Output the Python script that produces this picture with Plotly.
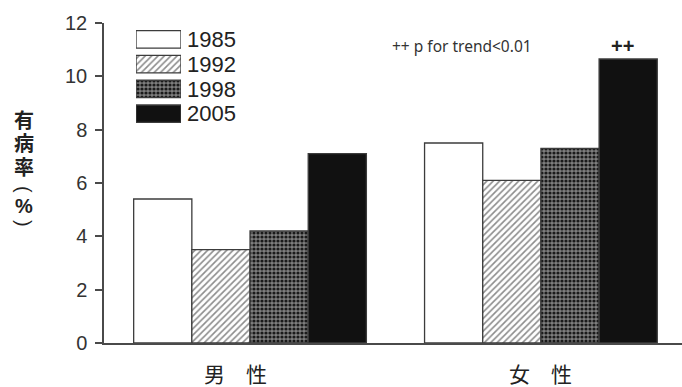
import plotly.graph_objects as go

# Prevalence (%) by sex and survey year
sexes = ["男 性", "女 性"]
years = ["1985", "1992", "1998", "2005"]
prevalence = {
    "1985": [5.4, 7.5],
    "1992": [3.5, 6.1],
    "1998": [4.2, 7.3],
    "2005": [7.1, 10.65],
}
y_ticks = [0, 2, 4, 6, 8, 10, 12]
y_title_chars = ["有", "病", "率", "(", "%", ")"]

# Fill styles per survey year
def year_marker(yr):
    line = dict(color="#3c3c3c", width=1.3)
    if yr == "1985":
        return dict(color="white", line=line)
    if yr == "1992":
        return dict(color="white", line=line,
                    pattern=dict(shape="/", fgcolor="#8c8c8c", bgcolor="white",
                                 size=4.5, solidity=0.35, fillmode="replace"))
    if yr == "1998":
        return dict(color="#6e6e6e", line=line,
                    pattern=dict(shape=".", fgcolor="#1a1a1a", bgcolor="#7e7e7e",
                                 size=4, solidity=0.5, fillmode="replace"))
    return dict(color="#111111", line=line)

AXIS = "#4a4a4a"
TEXT = "#222222"
SANS = "Liberation Sans, Arial, sans-serif"
CJK = "Noto Sans CJK JP, sans-serif"
TITLE_FONT = "Liberation Sans, Noto Sans CJK JP, sans-serif"

fig = go.Figure()
for yr in years:
    fig.add_trace(go.Bar(
        x=list(range(len(sexes))), y=prevalence[yr], name=yr, showlegend=False,
        marker=year_marker(yr), xaxis="x", yaxis="y",
    ))

# Legend swatches drawn as a small inset bar axis, labelled by year
for yr in years:
    fig.add_trace(go.Bar(
        y=[yr], x=[1], orientation="h", showlegend=False, width=0.7,
        offsetgroup="legend", marker=year_marker(yr),
        xaxis="x2", yaxis="y2", hoverinfo="skip",
    ))

fig.update_layout(
    width=682, height=387,
    margin=dict(l=104, r=0, t=23, b=44),
    plot_bgcolor="white", paper_bgcolor="white",
    barmode="group", bargap=0.2, bargroupgap=0,
    xaxis=dict(
        domain=[0, 1], range=[-0.502, 1.485],
        tickvals=list(range(len(sexes))), ticktext=["", ""],
        showline=True, linecolor=AXIS, linewidth=1.5, ticks="",
        showgrid=False, zeroline=False,
    ),
    yaxis=dict(
        range=[0, 12], tickvals=y_ticks,
        showline=True, linecolor=AXIS, linewidth=1.5,
        ticks="outside", ticklen=7, tickwidth=1.5, tickcolor=AXIS,
        showgrid=False, zeroline=False,
        tickfont=dict(family=SANS, size=20, color="#333333"), ticklabelstandoff=4,
    ),
    xaxis2=dict(domain=[0.0554, 0.1332], range=[0, 1], visible=False, anchor="y2"),
    yaxis2=dict(
        domain=[0.678, 0.9875], anchor="x2", side="right", autorange="reversed",
        type="category", categoryarray=years,
        tickmode="array", tickvals=years, ticktext=years,
        showline=False, showgrid=False, zeroline=False, ticks="",
        tickfont=dict(family=SANS, size=22, color=TEXT), ticklabelstandoff=5,
    ),
)

# Category labels under each group
label_shift = [-15, 0]
for i, s in enumerate(sexes):
    fig.add_annotation(
        text=s.replace(" ", "\u3000"), x=i, y=0, xref="x", yref="paper",
        xanchor="center", yanchor="middle", yshift=-30, xshift=label_shift[i],
        showarrow=False, font=dict(family=CJK, size=21, color=TEXT),
    )

# Vertical axis title, one character per line
title_y = [121, 144, 168, 189, 206, 223]
for ch, py in zip(y_title_chars, title_y):
    rotate = 90 if ch in "()" else 0
    fig.add_annotation(
        text=f"<b>{ch}</b>" if ch not in "()" else ch, xref="paper", yref="paper",
        x=(24 - 104) / 578, y=(343 - py) / 320, xanchor="center", yanchor="middle",
        showarrow=False, textangle=rotate,
        font=dict(family=TITLE_FONT, size=20, color=TEXT),
    )

# Trend note and marker above the 2005 women's bar
fig.add_annotation(
    text="++ p for trend<0.01", xref="paper", yref="paper",
    x=(462 - 104) / 578, y=(343 - 46) / 320, xanchor="center", yanchor="middle",
    showarrow=False, font=dict(family="Noto Sans, sans-serif", size=15.5, color="#333333"),
)
fig.add_annotation(
    text="<b>++</b>", x=1 + 0.3, y=prevalence["2005"][1], xref="x", yref="y",
    yanchor="bottom", yshift=0, xshift=-6, showarrow=False,
    font=dict(family=SANS, size=20, color=TEXT),
)

fig.write_html("out.html")
